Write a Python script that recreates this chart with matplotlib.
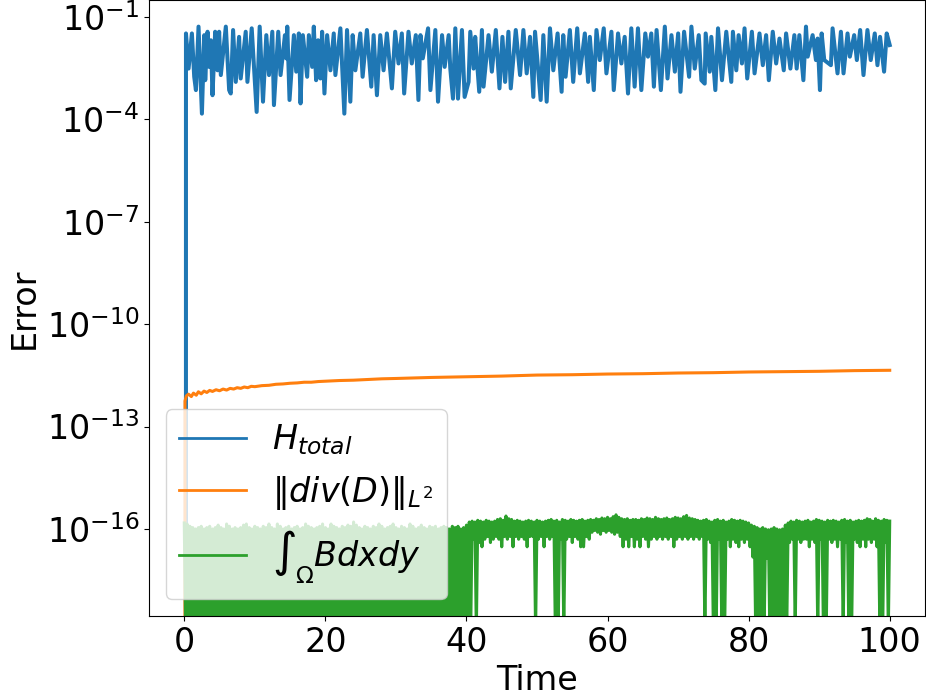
import numpy as np
import matplotlib
matplotlib.use("Agg")
import matplotlib.pyplot as plt
from matplotlib.ticker import FixedLocator, NullLocator

# ---- H_total: (time, log10 error); None marks an exact zero ----
h_t = [0.0, 0.24, 0.61, 1.08, 1.41, 1.65, 2.02, 2.50, 2.83, 2.97, 3.30, 3.53, 3.77, 4.00, 4.38, 4.71, 4.94,
       5.18, 5.89, 6.36, 6.59, 6.92, 7.30, 7.77, 8.00, 8.71, 8.95, 9.56, 10.26, 10.69, 11.16, 11.63, 12.01,
       12.48, 12.71, 13.32, 13.65, 14.27, 14.45, 14.60, 14.92, 15.54, 15.87, 16.24, 16.48, 16.81, 17.42,
       17.66, 18.13, 18.36, 18.69, 18.97, 19.30, 19.54, 19.87, 20.25, 20.72, 21.19, 21.42, 22.13, 22.69,
       23.07, 23.54, 23.87, 24.25, 24.95, 25.28, 25.89, 26.51, 26.84, 27.31, 27.78, 28.25, 28.72, 29.43,
       29.90, 30.37, 30.84, 31.17, 31.78, 32.25, 32.82, 33.19,
       33.48, 33.81, 34.56, 34.89, 35.59, 35.97, 36.54, 36.91, 37.48, 37.71, 38.09, 38.42, 38.80, 39.36,
       39.74, 40.30, 40.54, 41.01, 41.24, 41.81, 42.19, 42.42, 43.13, 43.60, 44.16, 44.68, 45.10, 45.48,
       45.95, 46.28, 46.99, 47.60, 48.07, 48.54, 49.01, 49.48, 49.72, 50.52, 50.90, 51.37, 51.84, 52.31,
       52.92, 53.49, 53.72, 54.05, 54.66, 55.13, 55.70, 56.08, 56.78, 57.25, 57.49, 58.05, 58.43, 58.90,
       59.46, 59.84, 60.55, 60.88, 61.49, 61.96, 62.43, 62.90, 63.37, 63.84, 64.31, 64.79, 65.35, 65.73,
       66.20, 66.57,
       66.95, 67.56, 68.12, 68.50, 69.06, 69.54, 70.01, 70.34, 70.85, 71.56, 71.89, 72.36, 72.93, 73.30,
       73.77, 73.91, 74.48, 74.71, 75.28, 75.66, 76.22, 76.83, 77.54, 77.77, 78.25, 78.58, 79.05, 79.42,
       79.80, 80.46, 80.84, 81.54, 82.01, 82.48, 82.86, 83.42, 83.90, 84.37, 84.98, 85.31, 85.92, 86.48,
       86.81, 87.19, 87.76, 88.13, 88.37, 89.07, 89.54, 89.78, 90.11, 90.35, 90.72, 91.66, 91.90, 92.60,
       93.08, 93.45, 94.02, 94.35, 94.96, 95.34, 95.81, 96.28, 96.84, 97.31, 97.88, 98.26, 98.63, 99.20,
       99.57, 100.0]
h_log = [None, -1.48, -2.51, -1.48, -2.75, -3.14, -1.28, -3.83, -1.53, -2.85, -1.43, -2.46, -1.68, -3.29,
         -1.43, -2.56, -1.43, -2.70, -1.28, -3.14, -3.24, -1.38, -2.90, -1.58, -2.80, -1.43, -2.90, -1.33,
         -3.78, -1.28, -3.48, -1.53, -2.70, -1.43, -3.58, -1.43, -2.70, -1.53, -2.21, -1.28, -3.43, -1.53,
         -2.60, -1.48, -3.53, -1.53, -2.75, -1.53, -2.46, -1.28, -2.85, -1.68, -2.80, -1.43, -3.24, -1.53,
         -2.56, -1.48, -2.70, -1.33, -3.83, -1.38, -3.48, -1.53, -2.56, -1.48, -2.75, -1.38, -3.04, -1.53,
         -3.29, -1.53, -2.56, -1.48, -3.09, -1.43, -2.36, -1.48, -3.24, -1.43, -2.36, -1.53, -3.43,
         -1.53, -2.21, -1.33, -3.14, -1.38, -3.48, -1.53, -2.46, -1.53, -2.51, -3.39, -1.33, -3.39, -1.38,
         -3.34, -2.90, -1.43, -2.51, -1.58, -3.19, -1.38, -3.04, -1.53, -2.60, -1.38, -3.09, -1.58, -2.90,
         -1.43, -3.09, -1.38, -2.70, -1.38, -2.65, -1.58, -3.34, -1.43, -3.43, -1.53, -3.48, -1.33, -2.56,
         -1.48, -3.19, -1.53, -2.75, -1.38, -2.90, -1.33, -2.65, -1.48, -2.90, -1.58, -3.14, -1.38, -2.26,
         -1.33, -2.65, -1.43, -3.14, -1.48, -2.36, -1.58, -3.24, -1.33, -3.04, -1.33, -3.14, -1.48, -2.16,
         -1.48, -3.04,
         -1.38, -3.14, -1.28, -2.80, -1.53, -2.60, -1.48, -3.19, -1.43, -2.75, -1.28, -2.51, -1.53, -2.85,
         -2.95, -1.48, -2.60, -1.58, -3.14, -1.33, -2.85, -1.43, -2.90, -1.43, -2.56, -1.53, -2.36, -1.33,
         -2.80, -1.43, -2.65, -1.48, -2.41, -1.53, -2.85, -1.43, -2.36, -1.63, -2.56, -1.48, -2.51, -1.53,
         -2.51, -1.53, -2.85, -1.28, -2.16, -1.53, -2.26, -1.63, -3.14, -1.48, -2.26, -2.41, -1.33, -2.65,
         -1.43, -2.65, -1.48, -2.16, -1.53, -2.26, -1.38, -2.70, -1.38, -2.26, -1.48, -2.41, -1.58, -2.60,
         -1.48, -1.82]

# ---- ||div(D)||_{L^2}: (time, log10 error) ----
d_t = [0, 0.1, 0.3, 0.6, 1.0, 1.3, 1.7, 2.0, 2.4, 2.8, 3.2, 3.6, 4.0, 4.5, 5.0, 5.5, 6.0, 6.5, 7.0, 7.5,
       8.0, 8.5, 9.0, 9.5, 10, 11, 12, 13, 14, 15, 16, 17, 18, 19, 20, 22, 24, 26, 28, 30, 35, 40, 45,
       50, 55, 60, 65, 70, 75, 80, 85, 90, 95, 100]
d_log = [None, -12.25, -12.10, -12.05, -12.12, -12.02, -12.08, -11.98, -12.04, -11.96, -12.00, -11.94,
         -11.97, -11.92, -11.95, -11.90, -11.93, -11.88, -11.90, -11.86, -11.88, -11.84, -11.86, -11.82,
         -11.83, -11.80, -11.79, -11.76, -11.75, -11.73, -11.72, -11.70, -11.70, -11.68, -11.67, -11.65,
         -11.64, -11.62, -11.60, -11.59, -11.56, -11.54, -11.52, -11.49, -11.48, -11.46, -11.45, -11.43,
         -11.42, -11.40, -11.39, -11.38, -11.36, -11.35]

# ---- int_Omega B dxdy, in units of 1e-16 ----
# upper samples at t = 0.0, 0.4, ..., 100.0 ; lower samples at t = 0.2, 0.6, ..., 99.8
# (0.001 marks the drops that fall below the bottom of the axis)
b_step = 0.4
b_hi = [1.5, 1.4, 1.2, 1.1, 1.0, 1.1, 1.2, 1.0, 1.1, 1.2,
        1.0, 1.1, 1.3, 1.1, 1.0, 1.4, 1.2, 1.0, 1.1, 1.0,
        1.1, 1.3, 1.4, 1.1, 1.0, 1.2, 1.1, 1.0, 1.2, 1.1,
        1.4, 1.1, 1.0, 1.4, 1.2, 1.0, 1.1, 1.2, 1.0, 1.1,
        1.2, 1.0, 1.1, 1.4, 1.2, 1.1, 1.0, 1.1, 1.2, 1.4,
        1.1, 1.0, 1.4, 1.2, 1.1, 1.0, 1.2, 1.1, 1.3, 1.2,
        1.6, 1.3, 1.1, 1.0, 1.2, 1.1, 1.0, 1.2, 1.1, 1.4,
        1.2, 1.0, 1.1, 1.2, 1.4, 1.1, 1.0, 1.2, 1.1, 1.0,
        1.4, 1.2, 1.0, 1.1, 1.3, 1.1, 1.0, 1.2, 1.1, 1.2,
        1.0, 1.1, 1.2, 1.1, 1.0, 1.2, 1.1, 1.2, 1.0, 1.1,
        1.3, 1.6, 1.7, 1.6, 1.8, 1.7, 1.6, 1.8, 1.7, 1.6,
        1.7, 1.9, 2.0, 1.8, 2.4, 2.0, 1.9, 1.7, 1.8, 1.7,
        1.6, 1.7, 1.8, 1.7, 1.6, 1.8, 1.7, 1.6, 1.7, 1.8,
        1.9, 1.7, 1.8, 1.6, 1.9, 1.8, 1.7, 1.9, 1.8, 1.7,
        1.8, 1.9, 1.7, 1.8, 1.9, 1.8, 2.0, 1.9, 2.1, 2.0,
        2.2, 2.0, 2.3, 2.6, 2.2, 2.0, 1.9, 2.0, 1.8, 1.9,
        1.9, 1.8, 2.0, 1.9, 2.1, 2.0, 1.9, 2.2, 2.0, 1.9,
        2.0, 2.1, 1.9, 2.0, 2.2, 2.1, 2.0, 2.3, 2.5, 2.1,
        2.0, 1.9, 1.8, 1.7, 1.8, 1.9, 1.7, 1.6, 1.8, 1.9,
        1.7, 1.8, 1.6, 1.7, 1.9, 1.8, 1.7, 1.8, 1.7, 1.6,
        1.5, 1.3, 1.2, 1.1, 1.0, 1.1, 1.0, 0.95, 1.0, 1.1,
        1.0, 0.95, 1.0, 1.3, 1.5, 1.7, 1.6, 1.8, 1.7, 1.6,
        1.7, 1.8, 1.6, 1.7, 1.9, 1.8, 1.7, 1.6, 1.8, 1.7,
        1.8, 1.7, 1.6, 1.8, 1.9, 1.7, 1.8, 1.6, 1.7, 1.8,
        1.7, 1.8, 2.0, 1.9, 1.7, 2.0, 1.8, 1.7, 1.9, 1.8,
        1.7]
b_lo = [0.001] * 100 + [
        0.001, 0.001, 0.5, 0.001, 0.4, 0.3, 0.5, 0.6, 0.4, 0.5,
        0.6, 0.5, 0.3, 0.6, 0.5, 0.6, 0.3, 0.6, 0.5, 0.6,
        0.5, 0.3, 0.6, 0.6, 0.001, 0.5, 0.6, 0.3, 0.6, 0.5,
        0.6, 0.001, 0.001, 0.5, 0.001, 0.5, 0.6, 0.4, 0.6, 0.5,
        0.3, 0.3, 0.6, 0.5, 0.8, 0.9, 0.8, 0.7, 0.9, 0.8,
        0.9, 0.8, 0.7, 0.8, 0.6, 0.3, 0.5, 0.3, 0.6, 0.3,
        0.5, 0.3, 0.6, 0.5, 0.3, 0.5, 0.6, 0.5, 0.6, 0.5,
        0.6, 0.5, 0.6, 0.3, 0.5, 0.6, 0.5, 0.6, 0.5, 0.6,
        0.5, 0.6, 0.5, 0.6, 0.001, 0.5, 0.4, 0.001, 0.001, 0.5,
        0.001, 0.001, 0.5, 0.3, 0.5, 0.4, 0.3, 0.5, 0.4, 0.5,
        0.3, 0.15, 0.001, 0.001, 0.001, 0.001, 0.14, 0.001, 0.001, 0.001,
        0.001, 0.001, 0.001, 0.001, 0.4, 0.5, 0.001, 0.5, 0.4, 0.5,
        0.5, 0.3, 0.5, 0.4, 0.001, 0.5, 0.001, 0.001, 0.5, 0.4,
        0.5, 0.3, 0.5, 0.001, 0.4, 0.001, 0.001, 0.5, 0.4, 0.3,
        0.5, 0.3, 0.5, 0.4, 0.5, 0.3, 0.001, 0.001, 0.4, 0.001]

x_ticks = [0, 20, 40, 60, 80, 100]
y_ticks = [1e-16, 1e-13, 1e-10, 1e-7, 1e-4, 1e-1]

labels = [r'$H_{total}$', r'$\|div(D)\|_{L^2}$', r'$\int_\Omega Bdxdy$']
colors = ['#1f77b4', '#ff7f0e', '#2ca02c']


def from_log(vals):
    return np.array([0.0 if v is None else 10.0 ** v for v in vals])


# interleave upper and lower samples of the B integral
b_vals = []
b_times = []
for i, hv in enumerate(b_hi):
    b_times.append(i * b_step)
    b_vals.append(hv * 1e-16)
    if i < len(b_lo):
        b_times.append(i * b_step + b_step / 2)
        b_vals.append(b_lo[i] * 1e-16)

fig = plt.figure(figsize=(9.26, 6.98), dpi=100)
ax = fig.add_axes([149 / 926, 82 / 698, 776 / 926, 616 / 698])

ax.plot(h_t, from_log(h_log), color=colors[0], lw=2.9, label=labels[0])
ax.plot(d_t, from_log(d_log), color=colors[1], lw=2.2, label=labels[1])
ax.plot(b_times, b_vals, color=colors[2], lw=2.2, label=labels[2])

ax.set_yscale('log')
ax.set_xlim(-5, 105)
ax.set_ylim(10 ** -18.55, 10 ** -0.5)
ax.yaxis.set_major_locator(FixedLocator(y_ticks))
ax.yaxis.set_minor_locator(NullLocator())
ax.set_xticks(x_ticks)
ax.tick_params(labelsize=24)

ax.set_xlabel('Time', fontsize=24)
ax.set_ylabel('Error', fontsize=24)
leg = ax.legend(loc='lower left', fontsize=24)
for line in leg.get_lines():
    line.set_linewidth(2)

fig.savefig('out.png', dpi=100)
